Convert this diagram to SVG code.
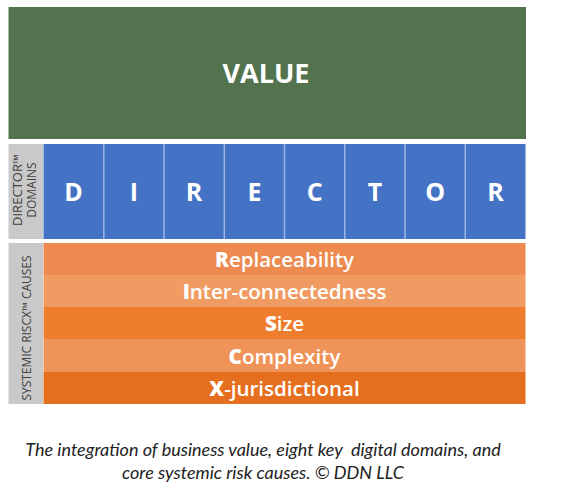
<svg xmlns="http://www.w3.org/2000/svg" width="566" height="502" viewBox="0 0 566 502">
<style>
.cell{fill:#4472C4;}
.div{stroke:#9DB6E3;stroke-width:1.5;}
.letter{font-family:"Open Sans","Liberation Sans",sans-serif;font-weight:bold;font-size:25px;fill:#fff;text-anchor:middle;}
.side{fill:#C9C9C9;}
.sidet{font-family:"Open Sans","Liberation Sans",sans-serif;font-size:12px;fill:#404040;text-anchor:middle;}
.cause{font-family:"Open Sans","Liberation Sans",sans-serif;font-size:20.5px;fill:#fff;text-anchor:middle;font-weight:600;}
.cause tspan{font-weight:800;}
.cap{font-family:Lato,"Liberation Sans",sans-serif;font-style:italic;font-size:18px;fill:#222;text-anchor:middle;white-space:pre;}
</style>
<rect width="566" height="502" fill="#fff"/>
<g id="value">
<rect x="8.5" y="7" width="517.5" height="132" fill="#52734D"/>
<text x="266" y="83" font-family="Open Sans, Liberation Sans, sans-serif" font-weight="bold" font-size="27" fill="#fff" text-anchor="middle">VALUE</text>
</g>
<g id="director-label">
<rect class="side" x="8.5" y="144" width="34.5" height="95"/>
<text class="sidet" transform="translate(22,190) rotate(-90)" textLength="72" lengthAdjust="spacingAndGlyphs">DIRECTOR™</text>
<text class="sidet" transform="translate(36,190) rotate(-90)">DOMAINS</text>
</g>
<g id="director">
<rect class="cell" x="43.5" y="144" width="482" height="95"/>
<g class="div">
<line x1="103.8" y1="144" x2="103.8" y2="239"/>
<line x1="164" y1="144" x2="164" y2="239"/>
<line x1="224.3" y1="144" x2="224.3" y2="239"/>
<line x1="284.5" y1="144" x2="284.5" y2="239"/>
<line x1="344.8" y1="144" x2="344.8" y2="239"/>
<line x1="405" y1="144" x2="405" y2="239"/>
<line x1="465.3" y1="144" x2="465.3" y2="239"/>
</g>
<text class="letter" x="73.6" y="201">D</text>
<text class="letter" x="133.9" y="201">I</text>
<text class="letter" x="194.1" y="201">R</text>
<text class="letter" x="254.4" y="201">E</text>
<text class="letter" x="314.6" y="201">C</text>
<text class="letter" x="374.9" y="201">T</text>
<text class="letter" x="435.1" y="201">O</text>
<text class="letter" x="495.4" y="201">R</text>
</g>
<g id="systemic-label">
<rect class="side" x="8.5" y="243" width="34.5" height="161"/>
<text class="sidet" transform="translate(30.5,328) rotate(-90)" textLength="145" lengthAdjust="spacingAndGlyphs">SYSTEMIC RISCX™ CAUSES</text>
</g>
<g id="causes">
<rect x="43.5" y="243" width="482" height="32" fill="#EC8A50"/>
<rect x="43.5" y="275" width="482" height="32" fill="#F09B62"/>
<rect x="43.5" y="307" width="482" height="32" fill="#EE7D2D"/>
<rect x="43.5" y="339" width="482" height="33" fill="#EF9358"/>
<rect x="43.5" y="372" width="482" height="32" fill="#E56F1F"/>
<text class="cause" x="284.5" y="266.5"><tspan>R</tspan>eplaceability</text>
<text class="cause" x="284.5" y="298.5"><tspan>I</tspan>nter-connectedness</text>
<text class="cause" x="284.5" y="330.5"><tspan>S</tspan>ize</text>
<text class="cause" x="284.5" y="363.5"><tspan>C</tspan>omplexity</text>
<text class="cause" x="284.5" y="395.5"><tspan>X</tspan>-jurisdictional</text>
</g>
<g id="caption">
<text class="cap" x="263" y="456" xml:space="preserve">The integration of business value, eight key  digital domains, and</text>
<text class="cap" x="263" y="479">core systemic risk causes. © DDN LLC</text>
</g>
</svg>
